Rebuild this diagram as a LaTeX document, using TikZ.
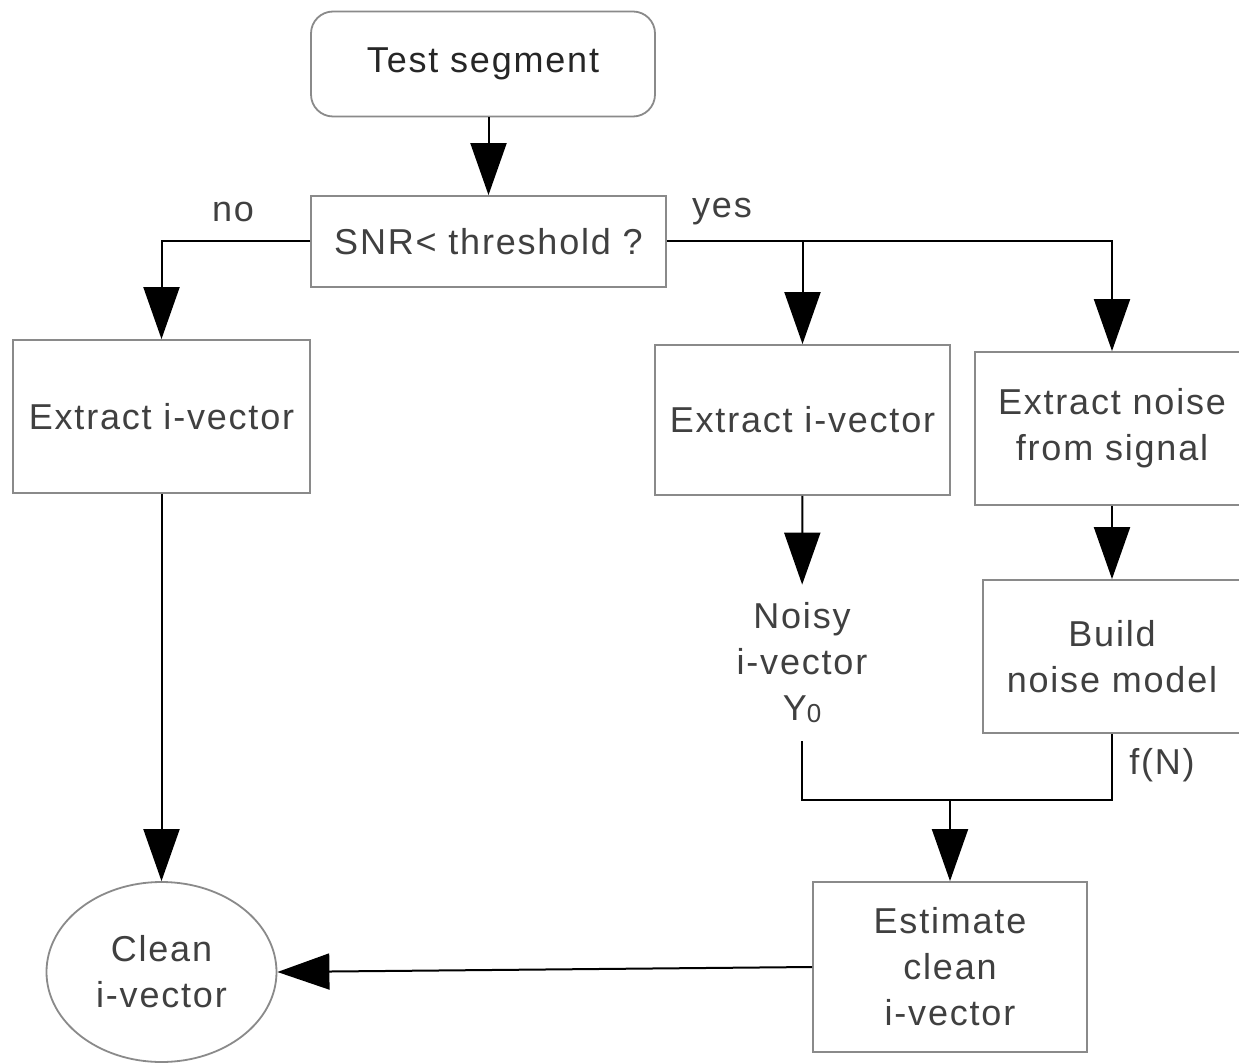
\documentclass[tikz,border=0pt]{standalone}
\usepackage{fontspec}
\setmainfont[LetterSpace=5]{Liberation Sans}
\usetikzlibrary{arrows.meta,shapes.geometric}
\definecolor{txt}{HTML}{404040}
\definecolor{frame}{HTML}{8A8A8A}
\tikzset{
  box/.style={draw=frame, line width=1.8pt, fill=white, text=txt, align=center,
    inner sep=0pt, font=\fontsize{36}{46}\selectfont},
  lbl/.style={text=txt, align=center, inner sep=0pt, font=\fontsize{36}{46}\selectfont},
  link/.style={line width=2pt, draw=black},
  arr/.style={link, -{Triangle[length=52pt,width=36pt]}},
}
\begin{document}
\begin{tikzpicture}[x=1pt,y=-1pt]
\useasboundingbox (0,0) rectangle (1239,1064);
\fill[white] (0,0) rectangle (1239,1064);

% process steps
\node[box, rounded corners=22pt, minimum width=344pt, minimum height=105pt, text=black!85]
  (test) at (483,64) {Test segment};
\node[box, minimum width=355pt, minimum height=91pt] (snr) at (488.5,241.5) {SNR< threshold ?};
\node[box, minimum width=297pt, minimum height=153pt] (ext1) at (161.5,416.5) {Extract i-vector};
\node[box, minimum width=295pt, minimum height=150pt] (ext2) at (802.5,420) {Extract i-vector};
\node[box, minimum width=274pt, minimum height=153pt] (noise) at (1112,428.5) {Extract noise\\from signal};
\node[box, minimum width=258pt, minimum height=153pt] (build) at (1112,656.5) {Build\\noise model};
\node[lbl, inner ysep=18pt] (noisy) at (802,663) {Noisy\\i-vector\\Y{\fontsize{26}{30}\selectfont\raisebox{-2pt}{0}}};
\node[box, minimum width=274pt, minimum height=170pt] (est) at (950,967) {Estimate\\clean\\i-vector};
\node[box, ellipse, minimum width=230pt, minimum height=180pt] (clean) at (161.5,972) {Clean\\i-vector};

% branch labels
\node[lbl] (no) at (233,212) {no};
\node[lbl] (yes) at (722,212) {yes};
\node[lbl] (fn) at (1162,765) {f(N)};

% connectors
\coordinate (join) at (950,800);
\draw[arr] (snr.north |- test.south) -- (snr.north);
\draw[arr] (snr.west) -| (ext1.north);
\draw[arr] (snr.east) -| (noise.north);
\draw[arr] (ext2.north |- snr.east) -- (ext2.north);
\draw[arr] (ext2) -- (noisy);
\draw[arr] (noise) -- (build);
\draw[link] (noisy.south) |- (join) -| (build.south);
\draw[arr] (join) -- (est.north);
\draw[arr] (ext1) -- (clean);
\draw[arr] (est.west) -- (clean.east);
\end{tikzpicture}
\end{document}
